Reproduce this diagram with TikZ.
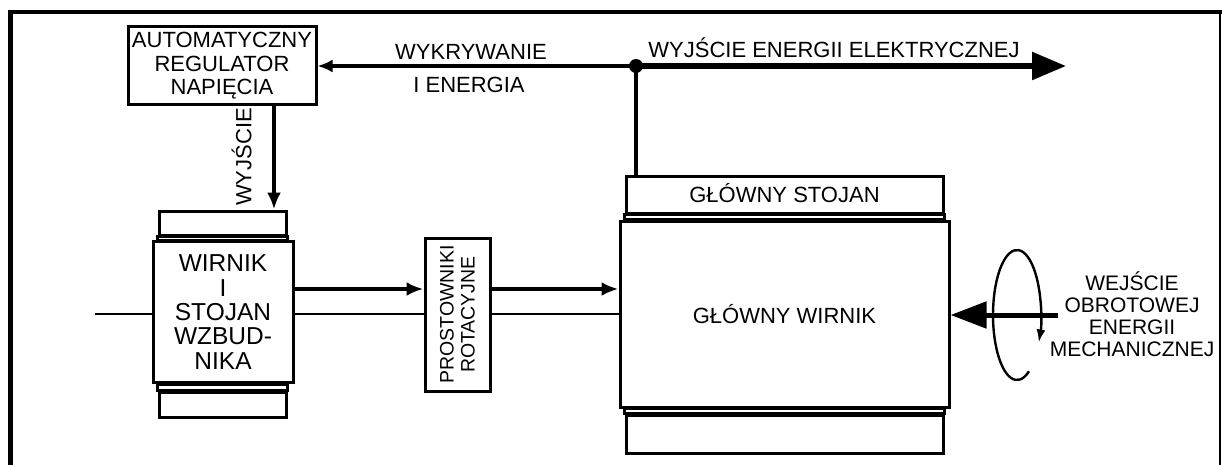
\documentclass[tikz,border=0pt]{standalone}
\usepackage{fontspec}
\setmainfont{Liberation Sans}
\usetikzlibrary{arrows.meta}
\begin{document}
\begin{tikzpicture}[x=1pt,y=-1pt,
  blk/.style={draw, line width=3pt, inner sep=0pt, align=center},
  strip/.style={draw, line width=3pt},
  conn/.style={line width=3.4pt},
  sarr/.style={conn, -{Latex[length=17pt,width=14pt]}},
  shaft/.style={line width=1.6pt},
  fA/.style={font=\fontsize{22}{23.5}\selectfont},
  fB/.style={font=\fontsize{24.5}{24.3}\selectfont},
  fC/.style={font=\fontsize{19.5}{21}\selectfont},
  fD/.style={font=\fontsize{21}{22}\selectfont},
  lbl/.style={inner sep=0pt}]
\useasboundingbox (0,0) rectangle (1222,465);
% frame
\draw[line width=4.5pt] (10.5,470) -- (10.5,12) -- (1222,12);
\draw[line width=1.5pt] (1220,12) -- (1220,470);

% automatic voltage regulator
\node[blk, fA, minimum width=188pt, minimum height=78pt] (arv) at (222,66)
  {AUTOMATYCZNY\\REGULATOR\\NAPIĘCIA};

% exciter
\node[blk, minimum width=127pt, minimum height=24pt] (exst) at (222.5,223) {};
\node[blk, fB, minimum width=140pt, minimum height=141pt] (exro) at (223,312)
  {WIRNIK\\I\\STOJAN\\WZBUD-\\NIKA};
\node[blk, minimum width=127pt, minimum height=25pt] (exbs) at (222.5,404.5) {};
\draw[strip] (exst.south west) rectangle (exro.north -| exst.south east);
\draw[strip] (exbs.north west) rectangle (exro.south -| exbs.north east);

% rotating rectifiers
\node[blk, minimum width=65pt, minimum height=153pt] (rect) at (457.5,314.5) {};
\node[lbl, fC, rotate=90, align=center] (rectt) at (rect.center) {PROSTOWNIKI\\ROTACYJNE};

% main machine
\node[blk, fA, minimum width=317pt, minimum height=36pt, text height=15.5pt, text depth=0pt] (mst) at (784.5,195) {GŁÓWNY STOJAN};
\node[blk, fA, minimum width=329pt, minimum height=186pt] (mro) at (784.5,314) {GŁÓWNY WIRNIK};
\node[blk, minimum width=317pt, minimum height=38pt] (mbs) at (784.5,434) {};
\draw[strip] (mst.south west) rectangle (mro.north -| mst.south east);
\draw[strip] (mbs.north west) rectangle (mro.south -| mbs.north east);

% top connection
\node[circle, fill, inner sep=0pt, minimum size=14pt] (dot) at (636,66) {};
\coordinate (outE) at (1066,66);
\draw[conn, -{Latex[length=15pt,width=13pt]}] (dot.center) -- (arv.east);
\draw[line width=5.5pt, -{Triangle[length=34pt,width=27pt]}] (dot.center) -- (outE);
\draw[conn] (dot.center) -- (dot.center |- mst.north);
\node[lbl, fA, anchor=base] (t1) at (471,60) {WYKRYWANIE};
\node[lbl, fA, anchor=base] (t2) at (469,93) {I ENERGIA};
\node[lbl, fA, anchor=base] (t3) at (834,58) {WYJŚCIE ENERGII ELEKTRYCZNEJ};

% regulator output
\coordinate (wx) at (274,0);
\draw[sarr] (arv.south -| wx) -- (exst.north -| wx);
\node[lbl, fA, rotate=90] (t4) at (241.5,157) {WYJŚCIE};

% power arrows
\coordinate (ay) at (0,289);
\draw[sarr] (exro.east |- ay) -- (rect.west |- ay);
\draw[sarr] (rect.east |- ay) -- (mro.west |- ay);

% shaft line
\coordinate (shL) at (95,314);
\draw[shaft] (shL) -- (exro.west |- shL);
\draw[shaft] (exro.east |- shL) -- (rect.west |- shL);
\draw[shaft] (rect.east |- shL) -- (mro.west |- shL);

% mechanical input
\coordinate (mIn) at (1058,315);
\draw[line width=5pt, -{Triangle[length=36pt,width=26pt]}] (mIn) -- (mro.east |- mIn);
\coordinate (rc) at (1017,315);
\draw[line width=2.4pt, -{Latex[length=13pt,width=9pt]}]
  ([shift={(-60:24pt and 65pt)}]rc) arc[start angle=-60, end angle=-385, x radius=24pt, y radius=65pt];
\node[lbl, fD, align=center] (t5) at (1132,314)
  {WEJŚCIE\\OBROTOWEJ\\ENERGII\\MECHANICZNEJ};
\end{tikzpicture}
\end{document}
